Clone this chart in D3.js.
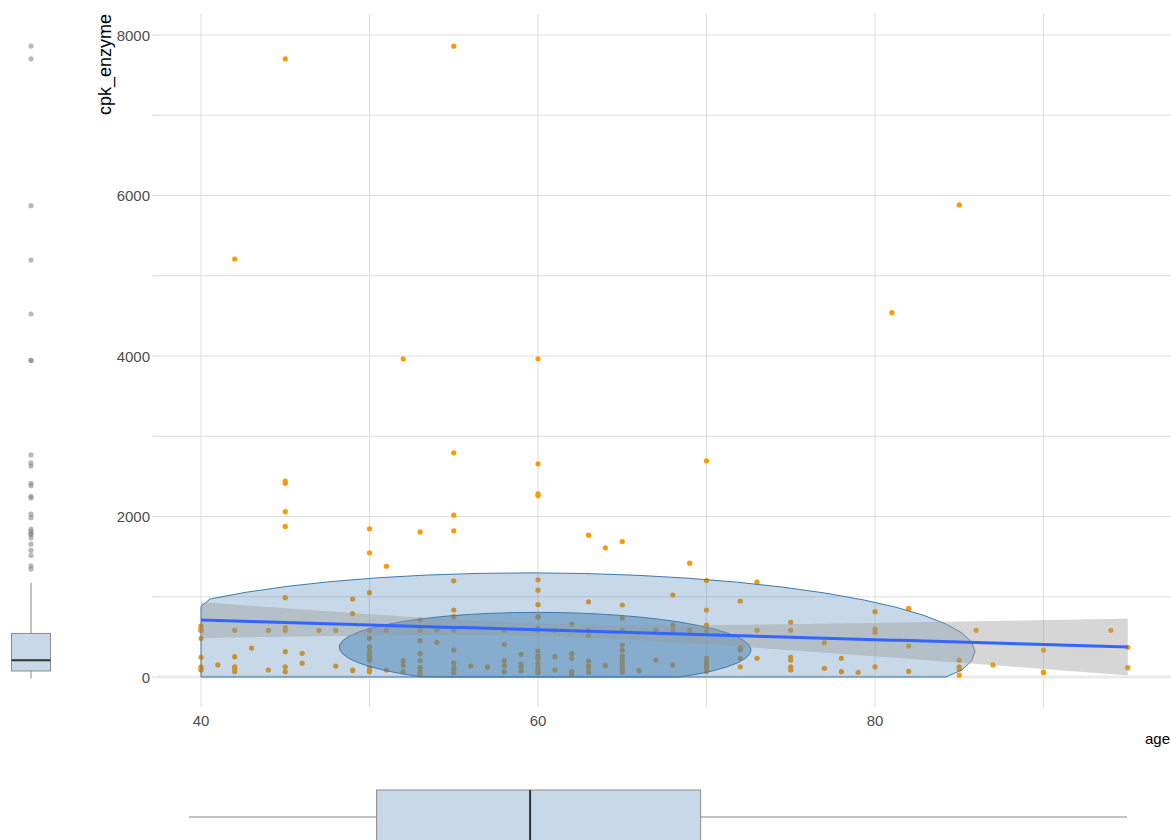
<!DOCTYPE html>
<html>
<head>
<meta charset="utf-8">
<script src="https://cdn.jsdelivr.net/npm/d3@7"></script>
<style>
  html, body { margin: 0; padding: 0; background: #ffffff; overflow: hidden; }
  svg { display: block; font-family: "Liberation Sans", Arial, sans-serif; }
</style>
</head>
<body>
<svg id="chart" width="1171" height="840"></svg>
<script>
// Patients: age (years) and creatine phosphokinase level (mcg/L)
const ages = [
  55, 45, 42, 85, 81, 52, 60, 55, 60, 70, 45, 45, 45, 45, 55, 55, 60, 60, 50, 50,
  51, 53, 63, 64, 65, 69, 70, 73, 60, 55, 60, 60,
  40, 40, 40, 40, 40, 40, 40, 40, 40,
  41,
  42, 42, 42, 42, 42,
  43,
  44, 44,
  45, 45, 45, 45, 45, 45,
  46, 46,
  47,
  48, 48,
  49, 49, 49, 49,
  50, 50, 50, 50, 50, 50, 50, 50, 50, 50, 50,
  51, 51,
  52, 52, 52,
  53, 53, 53, 53, 53, 53, 53, 53,
  54, 54,
  55, 55, 55, 55, 55, 55, 55, 55,
  56,
  57, 57,
  58, 58, 58, 58, 58,
  59, 59, 59, 59,
  60, 60, 60, 60, 60, 60, 60, 60, 60, 60, 60,
  61, 61, 61,
  62, 62, 62, 62, 62,
  63, 63, 63, 63, 63, 63, 63,
  64,
  65, 65, 65, 65, 65, 65, 65, 65, 65, 65, 65, 65,
  66,
  67, 67,
  68, 68, 68, 68,
  69,
  70, 70, 70, 70, 70, 70, 70, 70,
  72, 72, 72, 72, 72,
  73, 73,
  75, 75, 75, 75, 75, 75,
  77, 77,
  78, 78,
  79,
  80, 80, 80, 80,
  82, 82, 82,
  85, 85, 85, 85,
  86,
  87,
  90, 90, 90,
  94,
  95, 95
];
const cpkEnzyme = [
  7861, 7702, 5209, 5882, 4540, 3964, 3966, 2794, 2656, 2695, 2413, 2442, 2060, 1876, 2017, 1820, 2281, 2261, 1846, 1548,
  1380, 1808, 1767, 1610, 1688, 1419, 1202, 1185, 1211, 1199, 1082, 901,
  582, 582, 607, 636, 482, 245, 128, 101, 87,
  150,
  582, 253, 128, 102, 66,
  361,
  582, 87,
  988, 615, 582, 316, 128, 66,
  295, 170,
  582,
  582, 137,
  972, 789, 87, 80,
  1051, 582, 482, 375, 320, 275, 245, 210, 116, 87, 66,
  582, 87,
  203, 145, 66,
  710, 582, 453, 291, 203, 120, 66, 40,
  582, 432,
  835, 752, 582, 336, 174, 115, 87, 54,
  137,
  128, 120,
  582, 407, 203, 141, 66,
  283, 162, 125, 75,
  752, 745, 607, 582, 324, 262, 233, 170, 121, 87, 54,
  582, 253, 87,
  660, 291, 233, 66, 30,
  938, 582, 517, 199, 137, 112, 58,
  141,
  897, 735, 582, 399, 336, 265, 224, 190, 150, 115, 80, 60,
  79,
  582, 212,
  1021, 646, 582, 149,
  582,
  835, 648, 577, 233, 191, 150, 108, 66,
  947, 365, 336, 233, 128,
  582, 233,
  682, 582, 245, 212, 128, 87,
  428, 108,
  233, 66,
  58,
  814, 598, 555, 128,
  855, 386, 70,
  212, 128, 100, 23,
  582,
  150,
  336, 60, 52,
  582,
  371, 116
];

// Axis ticks
const xTicks = [40, 60, 80];
const xGrid = [40, 50, 60, 70, 80, 90];
const yTicks = [0, 2000, 4000, 6000, 8000];
const yGrid = [0, 1000, 2000, 3000, 4000, 5000, 6000, 7000, 8000];

// Linear fit cpk ~ age: [intercept, slope], and its 95% band terms
const lmCoef = [954.4, -6.11];
const lmBand = [60.83, 6000, 102];   // [mean age, a, b]: half-width = sqrt(a + b*(age-mean)^2)

// Robust (t) ellipse: [centre age, centre cpk, sd age, sd cpk, correlation]
const ellipseShape = [60.42, 353, 10.37, 384, -0.0376];
const ellipseRadii = [2.46, 1.1786];      // 95% and 50% levels
const ellipseOpacity = [0.3, 0.5];

// Marginal box plot five-number summaries (whisker-lo, Q1, median, Q3, whisker-hi)
const ageBox = [40, 51, 60, 70, 95];
const cpkBox = [23, 116.5, 250, 582, 1211];

const svg = d3.select("#chart");

const x = d3.scaleLinear().domain([40, 80]).range([201, 875]);
const y = d3.scaleLinear().domain([0, 8000]).range([677, 35]);
const panel = { left: 158, right: 1171, top: 14, bottom: 707 };

const points = ages.map((a, i) => ({ age: a, cpk: cpkEnzyme[i] }));

// Grid
const grid = svg.append("g");
grid.selectAll("line.gy").data(yGrid).join("line")
  .attr("x1", panel.left).attr("x2", panel.right)
  .attr("y1", d => y(d)).attr("y2", d => y(d))
  .attr("stroke", "#dedede").attr("stroke-width", 1);
grid.selectAll("line.gx").data(xGrid).join("line")
  .attr("y1", panel.top).attr("y2", panel.bottom)
  .attr("x1", d => x(d)).attr("x2", d => x(d))
  .attr("stroke", "#dedede").attr("stroke-width", 1);
grid.append("line")
  .attr("x1", panel.left).attr("x2", panel.right)
  .attr("y1", y(0)).attr("y2", y(0))
  .attr("stroke", "#e9e9e9").attr("stroke-width", 3);

// y ticks
svg.append("g").selectAll("line").data(yGrid).join("line")
  .attr("x1", 152).attr("x2", 159)
  .attr("y1", d => y(d)).attr("y2", d => y(d))
  .attr("stroke", "#d9d9d9").attr("stroke-width", 1);

// Points
svg.append("g").selectAll("circle").data(points).join("circle")
  .attr("cx", d => x(d.age)).attr("cy", d => y(d.cpk)).attr("r", 2.6)
  .attr("fill", "#ff9900");

// Ellipses (vertices squished onto the x >= 40, y >= 0 limits)
function ellipsePath(r) {
  const [cx, cy, sx, sy, rho] = ellipseShape;
  const pts = d3.range(52).map(i => {
    const t = 2 * Math.PI * i / 51;
    const ex = cx + r * sx * Math.cos(t);
    const ey = cy + r * (Math.cos(t) * rho * sy + Math.sin(t) * sy * Math.sqrt(1 - rho * rho));
    return [x(Math.max(40, ex)), y(Math.max(0, ey))];
  });
  return d3.line()(pts) + "Z";
}
svg.append("g").selectAll("path").data(ellipseRadii).join("path")
  .attr("d", d => ellipsePath(d))
  .attr("fill", "#4682b4")
  .attr("fill-opacity", (d, i) => ellipseOpacity[i])
  .attr("stroke", "#3f79ad").attr("stroke-width", 1);

// Linear fit band and line
const fitAges = d3.range(40, 95.01, 0.5);
const fit = a => lmCoef[0] + lmCoef[1] * a;
const half = a => Math.sqrt(lmBand[1] + lmBand[2] * (a - lmBand[0]) ** 2);
svg.append("path").datum(fitAges)
  .attr("d", d3.area().x(a => x(a)).y0(a => y(fit(a) - half(a))).y1(a => y(fit(a) + half(a))))
  .attr("fill", "#999999").attr("fill-opacity", 0.4);
svg.append("path").datum(fitAges)
  .attr("d", d3.line().x(a => x(a)).y(a => y(fit(a))))
  .attr("fill", "none").attr("stroke", "#3366ff").attr("stroke-width", 3);

// Tick labels
svg.append("g").selectAll("text").data(yTicks).join("text")
  .attr("x", 150).attr("y", d => y(d) + 5.5)
  .attr("text-anchor", "end").attr("font-size", 15).attr("fill", "#4d4d4d")
  .text(d => d);
svg.append("g").selectAll("text").data(xTicks).join("text")
  .attr("x", d => x(d)).attr("y", 726)
  .attr("text-anchor", "middle").attr("font-size", 15).attr("fill", "#4d4d4d")
  .text(d => d);

// Axis titles
svg.append("text")
  .attr("transform", "translate(111,14) rotate(-90)")
  .attr("text-anchor", "end").attr("font-size", 18).attr("fill", "#000")
  .text("cpk_enzyme");
svg.append("text")
  .attr("x", 1145).attr("y", 744)
  .attr("font-size", 15).attr("fill", "#000")
  .text("age");

// Left marginal box plot (cpk)
const yM = d3.scaleLinear().domain([0, 8000]).range([680.4, 34.8]);
const lb = svg.append("g");
const bx = 31, bw = 39;
lb.append("line").attr("x1", bx).attr("x2", bx).attr("y1", yM(cpkBox[4])).attr("y2", yM(cpkBox[3]))
  .attr("stroke", "#888").attr("stroke-width", 1);
lb.append("line").attr("x1", bx).attr("x2", bx).attr("y1", yM(cpkBox[1])).attr("y2", yM(cpkBox[0]))
  .attr("stroke", "#888").attr("stroke-width", 1);
lb.append("rect").attr("x", bx - bw / 2).attr("width", bw)
  .attr("y", yM(cpkBox[3])).attr("height", yM(cpkBox[1]) - yM(cpkBox[3]))
  .attr("fill", "#c7d8e8").attr("stroke", "#8c8c8c").attr("stroke-width", 1);
lb.append("line").attr("x1", bx - bw / 2).attr("x2", bx + bw / 2)
  .attr("y1", yM(cpkBox[2])).attr("y2", yM(cpkBox[2]))
  .attr("stroke", "#333").attr("stroke-width", 2);
lb.selectAll("circle").data(points.filter(p => p.cpk > cpkBox[4])).join("circle")
  .attr("cx", bx).attr("cy", d => yM(d.cpk)).attr("r", 2.6)
  .attr("fill", "#7f7f7f").attr("fill-opacity", 0.55);

// Bottom marginal box plot (age)
const xM = d3.scaleLinear().domain([40, 95]).range([189, 1127]);
const bb = svg.append("g");
const by = 817, bh = 54;
bb.append("line").attr("y1", by).attr("y2", by).attr("x1", xM(ageBox[0])).attr("x2", xM(ageBox[1]))
  .attr("stroke", "#888").attr("stroke-width", 1);
bb.append("line").attr("y1", by).attr("y2", by).attr("x1", xM(ageBox[3])).attr("x2", xM(ageBox[4]))
  .attr("stroke", "#888").attr("stroke-width", 1);
bb.append("rect").attr("y", by - bh / 2).attr("height", bh)
  .attr("x", xM(ageBox[1])).attr("width", xM(ageBox[3]) - xM(ageBox[1]))
  .attr("fill", "#c7d8e8").attr("stroke", "#8c8c8c").attr("stroke-width", 1);
bb.append("line").attr("y1", by - bh / 2).attr("y2", by + bh / 2)
  .attr("x1", xM(ageBox[2])).attr("x2", xM(ageBox[2]))
  .attr("stroke", "#333").attr("stroke-width", 2);
</script>
</body>
</html>
